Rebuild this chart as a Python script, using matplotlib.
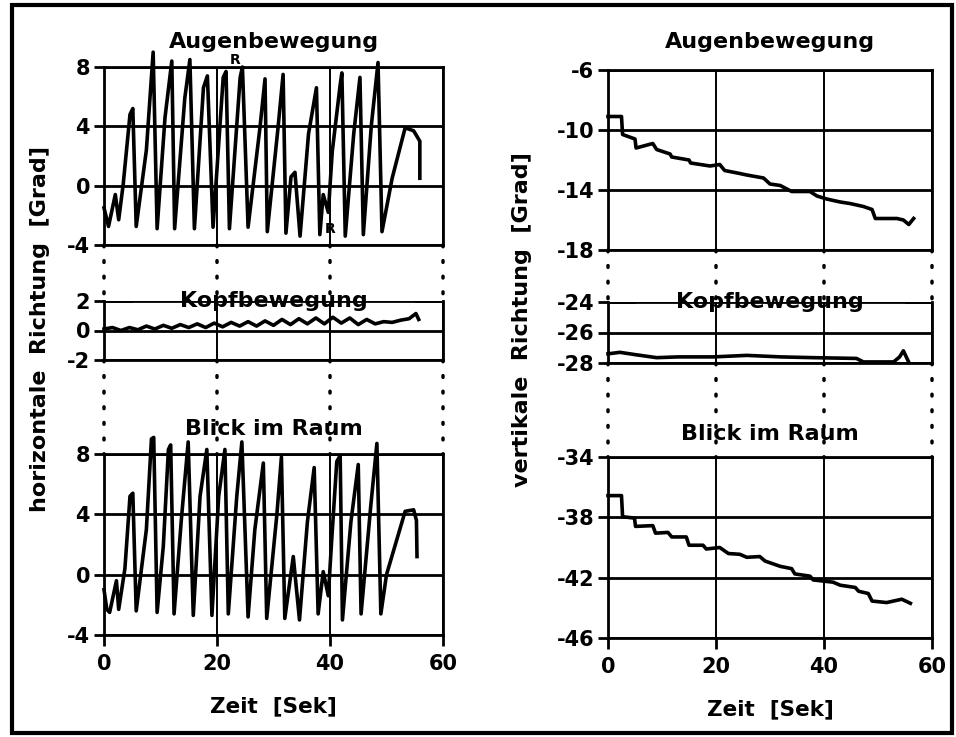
import matplotlib
matplotlib.use('Agg')
from matplotlib import pyplot as plt
from matplotlib.patches import Rectangle, ConnectionPatch

plt.rcParams['font.family'] = ['DejaVu Sans']
plt.rcParams['font.weight'] = 'bold'
plt.rcParams['axes.unicode_minus'] = False

# horizontal: eye, head, gaze (time in s, angle in deg)
eye_h_t = [0, 0.8, 2.0, 2.6, 3.4, 4.6, 5.1, 5.7, 7.5, 8.7, 9.4, 10.8, 12.0, 12.5, 14.3, 15.2,
           16.0, 17.6, 18.3, 19.3, 21.1, 21.6, 22.2, 24.1, 24.5, 25.5, 27.6, 28.5, 28.9, 30.8,
           31.7, 32.2, 33.1, 33.8, 34.7, 36.2, 37.6, 38.2, 38.8, 39.7, 40.4, 41.8, 42.1, 42.7,
           44.2, 45.3, 45.9, 47.3, 48.5, 49.2, 51.0, 53.3, 54.8, 55.9, 55.9]
eye_h_v = [-1.5, -2.75, -0.6, -2.3, 0.1, 4.8, 5.2, -2.75, 2.4, 9.0, -2.9, 4.6, 8.4, -2.9, 5.9, 8.5,
           -2.9, 6.6, 7.4, -2.8, 7.3, 7.7, -2.9, 7.3, 8.0, -2.8, 3.9, 7.2, -3.1, 3.9,
           7.5, -3.2, 0.6, 0.9, -3.4, 3.5, 6.6, -3.3, -0.6, -1.8, 2.3, 6.8, 7.6, -3.4,
           3.5, 7.3, -3.3, 4.0, 8.3, -3.1, 0.5, 3.9, 3.7, 3.0, 0.5]

head_h_t = [0, 1.5, 3, 4.5, 6, 7.5, 9, 10.5, 12, 13.5, 15, 16.5, 18, 19.5, 21, 22.5, 24, 25.5,
            27, 28.5, 30, 31.5, 33, 34.5, 36, 37.5, 39, 40.5, 42, 43.5, 45, 46.5, 48, 49.5,
            51, 52.5, 54, 55.2, 55.7]
head_h_v = [0.1, 0.2, 0.0, 0.2, 0.05, 0.3, 0.1, 0.35, 0.15, 0.4, 0.2, 0.45, 0.2, 0.5, 0.25, 0.55,
            0.3, 0.6, 0.3, 0.65, 0.35, 0.75, 0.4, 0.8, 0.45, 0.85, 0.45, 0.9, 0.5, 0.85, 0.4,
            0.75, 0.45, 0.6, 0.55, 0.7, 0.8, 1.15, 0.75]

gaze_h_t = [0, 0.5, 1.0, 2.2, 2.6, 3.7, 4.6, 5.1, 5.7, 7.5, 8.4, 8.8, 9.4, 10.5, 11.4, 11.8,
            12.4, 13.7, 14.9, 15.8, 17.0, 18.2, 19.1, 20.3, 21.4, 22.0, 23.5, 24.4, 25.5, 26.7,
            28.2, 28.8, 30.6, 31.4, 32.0, 33.5, 34.6, 36.0, 37.2, 37.9, 38.8, 39.7, 40.3, 41.2,
            41.8, 42.2, 43.7, 45.0, 45.5, 47.2, 48.3, 49.0, 50.0, 53.3, 54.8, 55.3, 55.4]
gaze_h_v = [-1.0, -2.3, -2.5, -0.4, -2.3, 0.4, 5.2, 5.4, -2.4, 3.0, 9.0, 9.1, -2.5, 1.9, 8.3, 8.6,
            -2.6, 3.7, 8.8, -2.7, 5.2, 8.3, -2.7, 5.2, 8.3, -2.6, 5.2, 8.8, -2.8, 3.0,
            7.4, -2.9, 4.0, 7.8, -2.9, 1.2, -3.0, 3.5, 7.1, -2.6, 0.2, -1.4, 2.3, 7.5,
            7.9, -3.0, 3.5, 7.3, -2.6, 4.5, 8.7, -2.6, 0.0, 4.2, 4.3, 3.6, 1.2]

# vertical: eye, head, gaze
eye_v_t = [0, 2.5, 2.7, 5.0, 5.2, 8.3, 9.0, 11.5, 11.8, 15.0, 15.3, 18.9, 20.7, 21.6, 24.4, 25.7,
           28.8, 30.0, 31.9, 34.0, 37.4, 38.7, 40.5, 43.0, 44.8, 47.3, 48.9, 49.5, 53.5, 54.7,
           55.7, 56.6]
eye_v_v = [-9.1, -9.1, -10.3, -10.6, -11.2, -10.9, -11.3, -11.6, -11.8, -12.0, -12.2, -12.4, -12.3,
           -12.7, -12.9, -13.0, -13.2, -13.6, -13.7, -14.1, -14.1, -14.4, -14.6, -14.8, -14.9,
           -15.1, -15.3, -15.9, -15.9, -16.0, -16.3, -15.9]

head_v_t = [0, 2.2, 5.0, 9.0, 13.0, 19.5, 25.7, 32.0, 38.0, 46.0, 47.3, 52.9, 54.0, 54.7, 55.7]
head_v_v = [-27.4, -27.3, -27.45, -27.65, -27.6, -27.6, -27.5, -27.6, -27.65, -27.7, -27.93,
            -27.93, -27.6, -27.2, -27.95]

gaze_v_t = [0, 2.5, 2.7, 4.9, 5.1, 8.3, 8.8, 11.1, 11.8, 14.5, 15.0, 17.6, 18.2, 20.7, 22.3, 24.4,
            25.7, 28.1, 29.1, 31.9, 34.0, 34.6, 37.4, 38.0, 41.7, 43.0, 45.8, 46.4, 48.2, 48.9,
            51.6, 54.4, 56.0]
gaze_v_v = [-36.56, -36.56, -37.96, -38.05, -38.6, -38.55, -39.05, -39.0, -39.3, -39.3, -39.85,
            -39.85, -40.1, -40.0, -40.4, -40.45, -40.65, -40.6, -40.9, -41.25, -41.4, -41.75,
            -41.9, -42.15, -42.3, -42.5, -42.65, -42.9, -43.05, -43.55, -43.65, -43.43, -43.7]

x_ticks = [0, 20, 40, 60]
titles = ['Augenbewegung', 'Kopfbewegung', 'Blick im Raum']

W, H = 956, 737
fig = plt.figure(figsize=(W / 100, H / 100), dpi=100)


def box(x0, top, x1, bottom):
    return [x0 / W, 1 - bottom / H, (x1 - x0) / W, (bottom - top) / H]


panels = [
    # left column
    (box(104, 67, 443, 245), eye_h_t, eye_h_v, (-4, 8), [-4, 0, 4, 8], 14),
    (box(104, 301, 443, 360), head_h_t, head_h_v, (-2, 2), [-2, 0, 2], None),
    (box(104, 454, 443, 635), gaze_h_t, gaze_h_v, (-4, 8), [-4, 0, 4, 8], 14),
    # right column
    (box(608, 70, 932, 250), eye_v_t, eye_v_v, (-18, -6), [-18, -14, -10, -6], 16),
    (box(608, 302, 932, 363), head_v_t, head_v_v, (-28, -24), [-28, -26, -24], None),
    (box(608, 457, 932, 638), gaze_v_t, gaze_v_v, (-46, -34), [-46, -42, -38, -34], 12),
]

axes = []
for i, (rect, t, v, ylim, yt, pad) in enumerate(panels):
    ax = fig.add_axes(rect)
    ax.plot(t, v, color='black', lw=2.6, clip_on=False, zorder=3, solid_joinstyle='round')
    ax.set_xlim(0, 60)
    ax.set_ylim(*ylim)
    ax.set_yticks(yt)
    ax.set_xticks(x_ticks)
    ax.grid(True, axis='y', color='black', lw=2)
    ax.grid(True, axis='x', color='black', lw=1.4)
    for s in ax.spines.values():
        s.set_linewidth(2)
    ax.tick_params(axis='y', length=7, width=2, labelsize=15, pad=3)
    ax.tick_params(axis='x', length=8, width=2, labelsize=15, pad=6)
    row = i % 3
    if row == 2:
        ax.set_xlabel('Zeit  [Sek]', fontsize=15.5, fontweight='bold', labelpad=16)
    else:
        ax.tick_params(axis='x', bottom=False, labelbottom=False)
    if row == 1:
        # title sits on the top edge, which is only drawn at both ends
        ax.spines['top'].set_visible(False)
        ax.axhline(ylim[1], xmin=0, xmax=0.08, color='black', lw=2)
        ax.axhline(ylim[1], xmin=0.92, xmax=1, color='black', lw=2)
        ax.text(0.5, 1.0, titles[row], transform=ax.transAxes, ha='center', va='center',
                fontsize=16, fontweight='bold')
    else:
        ax.set_title(titles[row], fontsize=16, fontweight='bold', pad=pad)
    axes.append(ax)

# R markers in the horizontal eye trace
axes[0].text(23.2, 8.5, 'R', fontsize=10, fontweight='bold', ha='center', va='center')
axes[0].text(40.0, -2.9, 'R', fontsize=10, fontweight='bold', ha='center', va='center')

# dotted links between the stacked panels
for col in (0, 3):
    for upper, lower in ((axes[col], axes[col + 1]), (axes[col + 1], axes[col + 2])):
        for xt in x_ticks:
            con = ConnectionPatch(xyA=(xt, upper.get_ylim()[0]), coordsA=upper.transData,
                                  xyB=(xt, lower.get_ylim()[1]), coordsB=lower.transData,
                                  color='black', lw=2.5, linestyle=(0, (0.5, 4)),
                                  capstyle='round')
            fig.add_artist(con)

fig.text(40 / W, 1 - 329 / H, 'horizontale  Richtung  [Grad]', rotation=90,
         ha='center', va='center', fontsize=16, fontweight='bold')
fig.text(522 / W, 1 - 320 / H, 'vertikale  Richtung  [Grad]', rotation=90,
         ha='center', va='center', fontsize=16, fontweight='bold')

fig.add_artist(Rectangle((12 / W, 4 / H), (952 - 12) / W, (733 - 5) / H,
                         transform=fig.transFigure, fill=False, lw=3, color='black'))

fig.savefig('out.png', dpi=100)
